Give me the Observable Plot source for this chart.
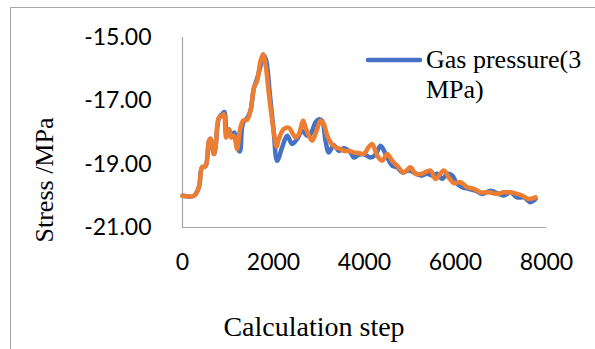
<!DOCTYPE html>
<html><head><meta charset="utf-8">
<script src="https://cdn.jsdelivr.net/npm/d3@7"></script>
<script src="https://cdn.jsdelivr.net/npm/@observablehq/plot@0.6"></script>
<style>
html,body{margin:0;padding:0;background:#fff;overflow:hidden;width:595px;height:349px}
#wrap{position:relative;width:595px;height:349px;overflow:hidden;background:#fff}
#chart{position:absolute;left:0;top:0}
#frame{position:absolute;left:10px;top:7px;width:620px;height:420px;border:1px solid #a6a6a6;pointer-events:none}
</style></head><body>
<div id="wrap"><div id="chart"></div><div id="frame"></div></div>
<script>
const seriesName = "Gas pressure(3 MPa)";
const xTicks = [0, 2000, 4000, 6000, 8000];
const yTicks = [-21, -19, -17, -15];

const blueSteps = [0,250,360,430,505,580,615,690,725,800,870,920,970,1020,1080,1140,1210,1260,1330,1420,1495,1570,1640,1715,1775,1835,1920,2000,2080,2190,2300,2410,2520,2630,2740,2813,2923,3000,3070,3143,3216,3326,3436,3546,3692,3766,3875,3985,4132,4242,4352,4499,4609,4719,4828,4974,5084,5231,5377,5487,5597,5707,5817,5927,6037,6147,6293,6440,6586,6769,6952,7062,7209,7355,7502,7648,7758];
const blueStress = [-20.0,-20.0,-19.73,-19.1,-19.07,-18.3,-18.2,-18.68,-18.47,-17.55,-17.42,-17.35,-18.1,-17.9,-18.1,-18.0,-18.5,-18.6,-17.7,-17.55,-17.3,-16.6,-16.3,-15.9,-15.55,-15.7,-16.8,-17.9,-18.89,-18.47,-18.1,-18.36,-18.2,-17.94,-18.1,-18.05,-17.68,-17.58,-17.63,-18.26,-18.63,-18.4,-18.58,-18.5,-18.63,-18.79,-18.7,-18.68,-18.79,-18.7,-18.42,-18.78,-19.05,-19.1,-19.26,-19.2,-19.26,-19.36,-19.3,-19.36,-19.3,-19.47,-19.31,-19.36,-19.62,-19.73,-19.78,-19.84,-19.94,-19.84,-19.94,-19.99,-19.89,-20.05,-20.05,-20.2,-20.1];

const orangeSteps = [0,250,360,430,505,580,615,690,725,800,870,910,960,1020,1070,1130,1200,1260,1330,1420,1495,1570,1640,1715,1770,1825,1900,1970,2070,2117,2227,2337,2410,2484,2557,2652,2703,2777,2850,2960,3033,3106,3180,3253,3363,3473,3545,3655,3765,3875,3985,4095,4168,4279,4388,4499,4609,4719,4865,5011,5121,5268,5450,5560,5743,5853,5963,6110,6257,6403,6549,6733,6916,7062,7209,7355,7465,7612,7758];
const orangeStress = [-20.0,-20.0,-19.73,-19.1,-19.07,-18.26,-18.2,-18.68,-18.47,-17.53,-17.48,-17.42,-18.16,-17.9,-18.16,-18.1,-18.52,-17.94,-17.63,-17.6,-17.31,-16.58,-16.37,-15.74,-15.53,-15.85,-16.79,-17.6,-18.45,-18.2,-17.89,-17.85,-18.0,-18.16,-18.05,-17.63,-17.84,-18.1,-18.26,-17.89,-17.63,-17.73,-18.1,-18.31,-18.47,-18.52,-18.58,-18.58,-18.63,-18.65,-18.68,-18.45,-18.36,-18.73,-18.89,-18.68,-18.89,-19.05,-19.26,-19.1,-19.31,-19.3,-19.2,-19.47,-19.2,-19.42,-19.6,-19.57,-19.73,-19.78,-19.89,-19.89,-19.94,-19.89,-19.89,-19.94,-19.99,-20.1,-20.05];

const blue = blueSteps.map((s, i) => ({step: s, stress: blueStress[i]}));
const orange = orangeSteps.map((s, i) => ({step: s, stress: orangeStress[i]}));

const tickFont = "Lato, 'Liberation Sans', sans-serif";
const serif = "'Liberation Serif', 'Times New Roman', serif";

const chart = Plot.plot({
  width: 595, height: 349,
  marginLeft: 182, marginRight: 49, marginTop: 37, marginBottom: 122,
  style: {background: "transparent", fontFamily: tickFont, fontSize: "23px", color: "#000"},
  x: {domain: [0, 8000]},
  y: {domain: [-21, -15]},
  marks: [
    Plot.ruleY([-21], {stroke: "#a6a6a6", strokeWidth: 1.2}),
    Plot.ruleX([0], {stroke: "#a6a6a6", strokeWidth: 1.2}),
    Plot.axisX({ticks: xTicks, tickSize: 0, tickPadding: 26, label: null, tickFormat: d => String(d), fontSize: 23, fontFamily: tickFont}),
    Plot.axisY({ticks: yTicks, tickSize: 0, tickPadding: 31, label: null, tickFormat: d => d.toFixed(2), fontSize: 23, fontFamily: tickFont}),
    Plot.line(blue, {x: "step", y: "stress", stroke: "#4472C4", strokeWidth: 4.5, curve: "catmull-rom", strokeLinejoin: "round", strokeLinecap: "round"}),
    Plot.line(orange, {x: "step", y: "stress", stroke: "#ED7D31", strokeWidth: 4.5, curve: "catmull-rom", strokeLinejoin: "round", strokeLinecap: "round"})
  ]
});
document.getElementById("chart").appendChild(chart);

const svg = d3.select(chart);
// axis titles
svg.append("text").attr("x", 314).attr("y", 336).attr("text-anchor", "middle")
  .attr("font-family", serif).attr("font-size", 28).attr("fill", "#000").text("Calculation step");
svg.append("text").attr("transform", "translate(53,180) rotate(-90)").attr("text-anchor", "middle")
  .attr("font-family", serif).attr("font-size", 26).attr("fill", "#000").text("Stress /MPa");
// legend
svg.append("line").attr("x1", 368).attr("x2", 420).attr("y1", 60).attr("y2", 60)
  .attr("stroke", "#4472C4").attr("stroke-width", 4.5).attr("stroke-linecap", "round");
const lg = svg.append("text").attr("text-anchor", "start").attr("font-family", serif).attr("font-size", 26).attr("fill", "#000");
lg.append("tspan").attr("x", 426).attr("y", 68).text("Gas pressure(3");
lg.append("tspan").attr("x", 426).attr("y", 98).text("MPa)");
</script>
</body></html>
